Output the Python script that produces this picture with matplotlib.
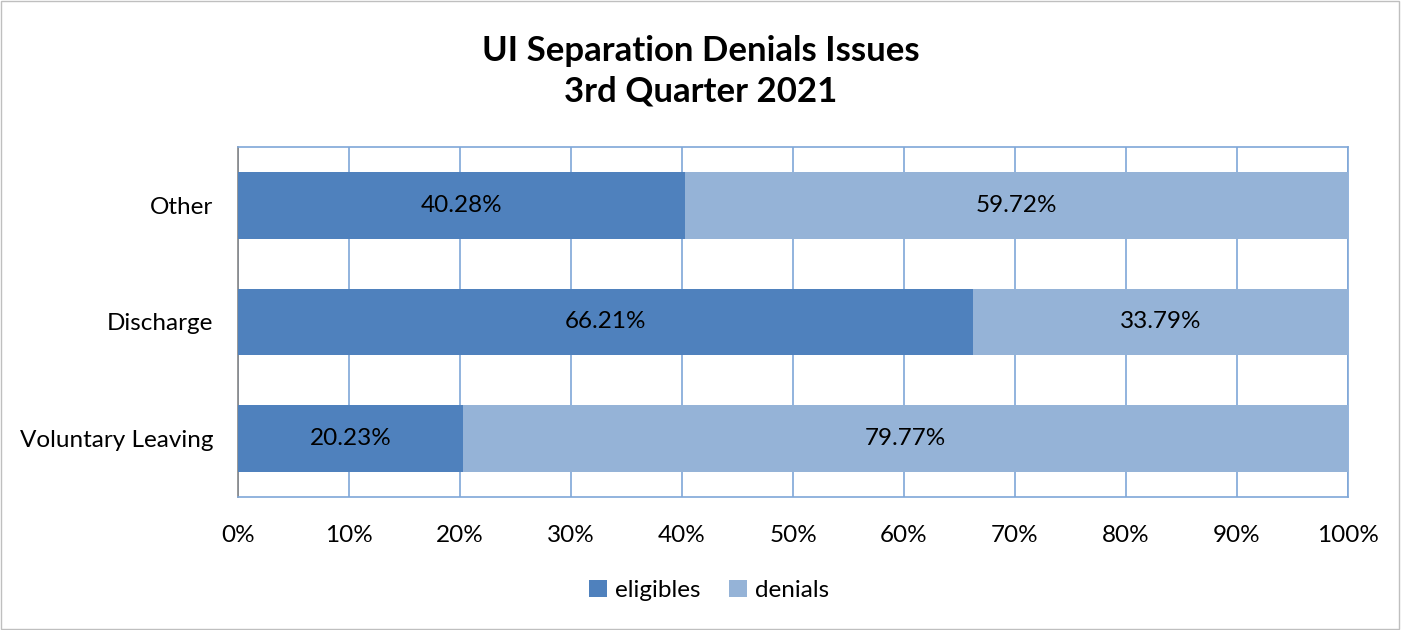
import numpy as np
import matplotlib.pyplot as plt
from matplotlib.patches import Rectangle

plt.rcParams['font.family'] = ['Lato', 'DejaVu Sans']

# data
categories = ['Voluntary Leaving', 'Discharge', 'Other']
eligibles = [20.23, 66.21, 40.28]
denials = [79.77, 33.79, 59.72]
xticks = np.arange(0, 101, 10)

c_elig = '#4F81BD'
c_den = '#95B3D7'
c_grid = '#7FA7D8'

fig = plt.figure(figsize=(14.01, 6.30), dpi=100)
ax = fig.add_axes([0.1699, 0.2111, 0.7923, 0.5556])

y = np.arange(len(categories))
b1 = ax.barh(y, eligibles, height=0.57, color=c_elig, label='eligibles', zorder=3)
b2 = ax.barh(y, denials, left=eligibles, height=0.57, color=c_den, label='denials', zorder=3)

for bars in (b1, b2):
    for r in bars:
        ax.text(r.get_x() + r.get_width() / 2, r.get_y() + r.get_height() / 2,
                '%.2f%%' % r.get_width(), ha='center', va='center', fontsize=17.5, color='black', zorder=4)

ax.set_xlim(0, 100)
ax.set_ylim(-0.5, 2.5)
ax.set_xticks(xticks)
ax.set_xticklabels(['%d%%' % v for v in xticks])
ax.set_yticks(y)
ax.set_yticklabels(categories)
ax.tick_params(axis='both', labelsize=17.5, length=0)
ax.tick_params(axis='x', pad=20)
ax.tick_params(axis='y', pad=18)
ax.xaxis.grid(True, color=c_grid, linewidth=1.2, zorder=0)

for s in ['top', 'right', 'bottom']:
    ax.spines[s].set_color(c_grid)
    ax.spines[s].set_linewidth(1.2)
ax.spines['left'].set_color('#868686')
ax.spines['left'].set_linewidth(1.2)

fig.text(0.5, 0.887, 'UI Separation Denials Issues\n3rd Quarter 2021', ha='center', va='center',
         fontsize=25, fontweight='bold', linespacing=1.35)

fig.legend(handles=[b1, b2], loc='center', bbox_to_anchor=(0.506, 0.063), ncol=2, frameon=False,
           fontsize=17.5, handlelength=0.75, handleheight=0.75, handletextpad=0.3, columnspacing=1.2)

fig.patches.append(Rectangle((0.0005, 0.002), 0.998, 0.996, transform=fig.transFigure,
                             fill=False, edgecolor='#BFBFBF', linewidth=1))

fig.savefig('out.png', dpi=100)
